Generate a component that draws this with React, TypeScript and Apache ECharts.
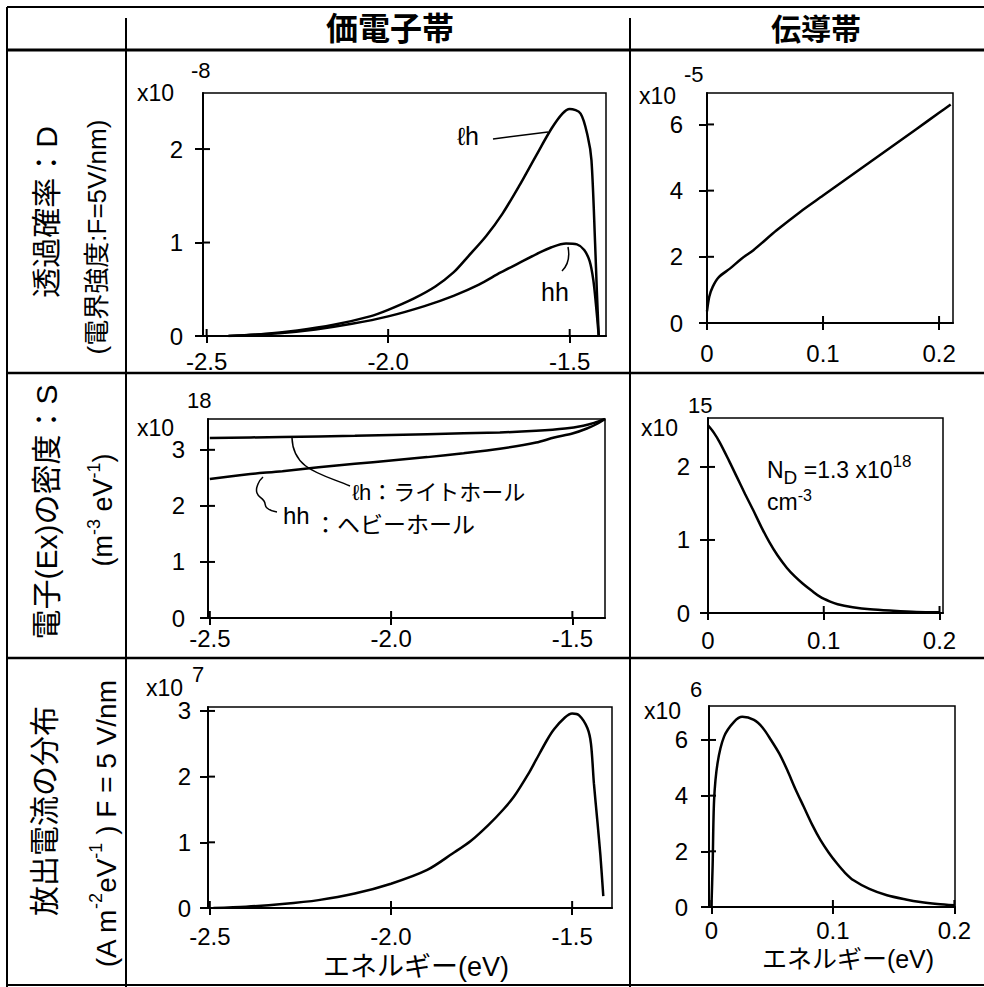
import React, { useEffect, useRef } from "react";
import * as echarts from "echarts";

// ---------- data ----------
const VB_E_TICKS = [-2.5, -2.0, -1.5];
const CB_E_TICKS = [0, 0.1, 0.2];
const D_VB_Y_TICKS = [0, 1, 2];
const D_CB_Y_TICKS = [0, 2, 4, 6];
const S_VB_Y_TICKS = [0, 1, 2, 3];
const S_CB_Y_TICKS = [0, 1, 2];
const J_VB_Y_TICKS = [0, 1, 2, 3];
const J_CB_Y_TICKS = [0, 2, 4, 6];

// transmission probability D (x1e-8), valence band
const D_VB_LH = [
  [-2.44, 0.0], [-2.35, 0.02], [-2.25, 0.06], [-2.15, 0.12], [-2.05, 0.21], [-2.0, 0.28],
  [-1.93, 0.4], [-1.87, 0.53], [-1.82, 0.68], [-1.78, 0.85], [-1.73, 1.07], [-1.685, 1.31],
  [-1.64, 1.6], [-1.594, 1.92], [-1.55, 2.22], [-1.52, 2.38], [-1.5, 2.43], [-1.47, 2.38],
  [-1.45, 2.13], [-1.44, 1.88], [-1.43, 0.99], [-1.425, 0.46], [-1.42, 0.0],
];
const D_VB_HH = [
  [-2.44, 0.0], [-2.3, 0.03], [-2.2, 0.07], [-2.1, 0.13], [-2.0, 0.21], [-1.9, 0.32],
  [-1.82, 0.43], [-1.75, 0.55], [-1.69, 0.68], [-1.64, 0.78], [-1.59, 0.88], [-1.55, 0.95],
  [-1.51, 0.99], [-1.48, 0.98], [-1.46, 0.92], [-1.445, 0.8], [-1.435, 0.6], [-1.428, 0.35],
  [-1.42, 0.0],
];
// transmission probability D (x1e-5), conduction band
const D_CB = [
  [0, 0.35], [0.002, 0.8], [0.005, 1.1], [0.01, 1.38], [0.02, 1.65], [0.03, 1.95], [0.04, 2.2],
  [0.06, 2.8], [0.08, 3.35], [0.1, 3.85], [0.12, 4.35], [0.14, 4.85], [0.16, 5.35],
  [0.18, 5.85], [0.2, 6.35], [0.21, 6.6],
];
// electron density S (x1e18), valence band
const S_VB_LH = [
  [-2.5, 3.21], [-2.3, 3.23], [-2.1, 3.25], [-1.9, 3.28], [-1.7, 3.31], [-1.6, 3.34],
  [-1.52, 3.38], [-1.47, 3.43], [-1.44, 3.48], [-1.41, 3.55],
];
const S_VB_HH = [
  [-2.5, 2.48], [-2.4, 2.56], [-2.3, 2.62], [-2.2, 2.69], [-2.1, 2.75], [-2.0, 2.81],
  [-1.9, 2.87], [-1.8, 2.94], [-1.7, 3.02], [-1.6, 3.13], [-1.55, 3.22], [-1.5, 3.29],
  [-1.46, 3.38], [-1.43, 3.47], [-1.41, 3.55],
];
// electron density S (x1e15), conduction band
const S_CB = [
  [0, 2.57], [0.005, 2.47], [0.01, 2.34], [0.018, 2.09], [0.025, 1.86], [0.032, 1.63],
  [0.039, 1.41], [0.046, 1.18], [0.053, 0.97], [0.06, 0.79], [0.068, 0.62], [0.075, 0.5],
  [0.082, 0.4], [0.09, 0.3], [0.097, 0.22], [0.105, 0.16], [0.112, 0.12], [0.125, 0.08],
  [0.14, 0.05], [0.16, 0.03], [0.18, 0.015], [0.2, 0.01],
];
// emission current distribution J (x1e7), valence band
const J_VB = [
  [-2.49, 0.0], [-2.4, 0.02], [-2.3, 0.06], [-2.2, 0.12], [-2.1, 0.22], [-2.0, 0.37],
  [-1.9, 0.58], [-1.83, 0.83], [-1.78, 1.02], [-1.73, 1.27], [-1.69, 1.5], [-1.66, 1.7],
  [-1.62, 2.05], [-1.6, 2.25], [-1.57, 2.55], [-1.55, 2.72], [-1.52, 2.9], [-1.5, 2.96],
  [-1.48, 2.93], [-1.458, 2.74], [-1.448, 2.5], [-1.44, 1.9], [-1.43, 1.3], [-1.422, 0.8],
  [-1.414, 0.18],
];
// emission current distribution J (x1e6), conduction band
const J_CB = [
  [0, 0], [0.001, 1.5], [0.0022, 3.84], [0.005, 5.16], [0.0104, 6.12], [0.0186, 6.65],
  [0.0254, 6.83], [0.035, 6.72], [0.042, 6.45], [0.049, 6.0], [0.056, 5.5], [0.0624, 4.92],
  [0.069, 4.25], [0.076, 3.6], [0.083, 2.95], [0.0898, 2.4], [0.0966, 1.95], [0.1034, 1.56],
  [0.11, 1.23], [0.117, 0.96], [0.13, 0.65], [0.1445, 0.42], [0.16, 0.27], [0.172, 0.18],
  [0.186, 0.11], [0.2, 0.06],
];

// ---------- layout ----------
const FONT = "'Liberation Sans', 'Noto Sans CJK JP', sans-serif";

const PANELS = [
  { grid: { left: 203, top: 93, width: 403, height: 243 }, x: [-2.51, -1.4], xt: VB_E_TICKS, y: [0, 2.6], yt: D_VB_Y_TICKS, xm: 13, ym: 20, series: [D_VB_LH, D_VB_HH] },
  { grid: { left: 707, top: 93, width: 246, height: 230 }, x: [0, 0.212], xt: CB_E_TICKS, y: [0, 6.95], yt: D_CB_Y_TICKS, xm: 18, ym: 24, series: [D_CB] },
  { grid: { left: 208, top: 419, width: 397, height: 199 }, x: [-2.505, -1.41], xt: VB_E_TICKS, y: [0, 3.55], yt: S_VB_Y_TICKS, xm: 8, ym: 23, series: [S_VB_LH, S_VB_HH] },
  { grid: { left: 708, top: 418, width: 235, height: 195 }, x: [0, 0.203], xt: CB_E_TICKS, y: [0, 2.67], yt: S_CB_Y_TICKS, xm: 15, ym: 18, series: [S_CB] },
  { grid: { left: 208, top: 707, width: 404, height: 201 }, x: [-2.505, -1.39], xt: VB_E_TICKS, y: [0, 3.06], yt: J_VB_Y_TICKS, xm: 16, ym: 17, series: [J_VB] },
  { grid: { left: 709, top: 706, width: 246, height: 201 }, x: [-0.002, 0.2005], xt: CB_E_TICKS, y: [0, 7.22], yt: J_CB_Y_TICKS, xm: 11, ym: 21, series: [J_CB] },
];

const fmtE = (v: number) => (v === 0 ? "0" : v < 0 ? v.toFixed(1) : String(v));

function txt(text: string, x: number, y: number, size: number, o: any = {}) {
  return {
    type: "text",
    x,
    y,
    rotation: o.rot || 0,
    z: 100,
    style: {
      text,
      fontSize: size,
      fontFamily: FONT,
      fontWeight: o.fw || "normal",
      fill: "#000",
      align: o.align || "left",
      verticalAlign: o.va || "middle",
      lineHeight: o.lh || size,
      rich: o.rich,
    },
  };
}
function ln(x1: number, y1: number, x2: number, y2: number, w = 2) {
  return { type: "line", z: 100, shape: { x1, y1, x2, y2 }, style: { stroke: "#000", lineWidth: w } };
}

function baseGraphic(): any[] {
  const supRich = {
    sup: { fontSize: 18, fontFamily: FONT, verticalAlign: "top", lineHeight: 18 },
    sub: { fontSize: 18, fontFamily: FONT, verticalAlign: "bottom", lineHeight: 18 },
  };
  return [
    // table frame
    ln(7, 7, 984, 7, 2),
    ln(7, 50, 984, 50, 3),
    ln(7, 373, 984, 373, 2.5),
    ln(7, 658, 984, 658, 2.5),
    ln(7, 985, 984, 985, 2),
    ln(7, 7, 7, 987, 2),
    ln(126, 18, 126, 987, 2),
    ln(630, 18, 630, 987, 2),
    // headers
    txt("価電子帯", 390, 29, 32, { align: "center", fw: "bold" }),
    txt("伝導帯", 816, 29, 30, { align: "center", fw: "bold" }),
    // row labels
    txt("透過確率：D", 46, 212, 30, { rot: Math.PI / 2, align: "center" }),
    txt("(電界強度:F=5V/nm)", 97, 237, 26, { rot: Math.PI / 2, align: "center" }),
    txt("電子(Ex)の密度：S", 46, 512, 30, { rot: Math.PI / 2, align: "center" }),
    txt("(m{sup|-3} eV{sup|-1})", 103, 510, 27, { rot: Math.PI / 2, align: "center", lh: 36, rich: supRich }),
    txt("放出電流の分布", 44, 811, 30, { rot: Math.PI / 2, align: "center" }),
    txt("(A m{sup|-2}eV{sup|-1} ) F = 5 V/nm", 106, 824, 28, { rot: Math.PI / 2, align: "center", lh: 38, rich: supRich }),
    // axis exponents
    txt("x10", 137, 93, 23, { lh: 20 }), txt("-8", 191, 70, 22, { lh: 18 }),
    txt("x10", 639, 96, 23, { lh: 20 }), txt("-5", 684, 74, 22, { lh: 18 }),
    txt("x10", 137, 428, 23, { lh: 20 }), txt("18", 187, 400, 22, { lh: 18 }),
    txt("x10", 641, 428, 23, { lh: 20 }), txt("15", 688, 405, 22, { lh: 18 }),
    txt("x10", 146, 688, 23, { lh: 20 }), txt("7", 192, 674, 22, { lh: 18 }),
    txt("x10", 644, 711, 23, { lh: 20 }), txt("6", 690, 689, 22, { lh: 18 }),
    // x axis titles
    txt("エネルギー(eV)", 416, 967, 27, { align: "center", lh: 24 }),
    txt("エネルギー(eV)", 848, 959, 25, { align: "center", lh: 24 }),
    // panel 1 annotations
    txt("ℓh", 457, 136, 25),
    ln(493, 139, 548, 132, 1.5),
    txt("hh", 541, 292, 25),
    { type: "bezierCurve", z: 100, shape: { x1: 562, y1: 271, cpx1: 571, cpy1: 262, x2: 568, y2: 247 }, style: { stroke: "#000", lineWidth: 1.5, fill: null } },
    // panel 3 annotations
    txt("ℓh：ライトホール", 352, 492, 22),
    txt("hh", 283, 515, 24),
    txt("：ヘビーホール", 314, 525, 23),
    { type: "bezierCurve", z: 100, shape: { x1: 292, y1: 438, cpx1: 293, cpy1: 470, cpx2: 322, cpy2: 474, x2: 350, y2: 486 }, style: { stroke: "#000", lineWidth: 1.5, fill: null } },
    { type: "polyline", z: 100, shape: { points: [[263, 477], [258, 484], [257, 493], [264, 501], [267, 508], [277, 512]], smooth: 0.5 }, style: { stroke: "#000", lineWidth: 1.5, fill: null } },
    // panel 4 annotation
    txt("N{sub|D} =1.3 x10{sup|18}", 767, 470, 23, { lh: 34, rich: { sup: { fontSize: 17, fontFamily: FONT, verticalAlign: "top", lineHeight: 17 }, sub: { fontSize: 19, fontFamily: FONT, verticalAlign: "bottom", lineHeight: 19 } } }),
    txt("cm{sup|-3}", 767, 502, 23, { lh: 30, rich: { sup: { fontSize: 16, fontFamily: FONT, verticalAlign: "top", lineHeight: 16 } } }),
  ];
}

function buildOption() {
  const grid: any[] = [];
  const xAxis: any[] = [];
  const yAxis: any[] = [];
  const series: any[] = [];
  PANELS.forEach((p, i) => {
    grid.push({ ...p.grid, show: true, borderColor: "#000", borderWidth: 1.5, backgroundColor: "transparent" });
    const tickStyle = { color: "#000", width: 2 };
    const lineStyle = { color: "#000", width: 2 };
    xAxis.push({
      gridIndex: i, type: "value", min: p.x[0], max: p.x[1], position: "bottom",
      axisLine: { show: true, onZero: false, lineStyle },
      axisTick: { show: true, customValues: p.xt, length: 7, lineStyle: tickStyle },
      axisLabel: { show: true, customValues: p.xt, formatter: fmtE, margin: p.xm, fontSize: 24, lineHeight: 24, fontFamily: FONT, color: "#000" },
      splitLine: { show: false },
    });
    yAxis.push({
      gridIndex: i, type: "value", min: p.y[0], max: p.y[1], position: "left",
      axisLine: { show: true, onZero: false, lineStyle },
      axisTick: { show: true, customValues: p.yt, length: 8, lineStyle: tickStyle },
      axisLabel: { show: true, customValues: p.yt, margin: p.ym, fontSize: 24, lineHeight: 22, fontFamily: FONT, color: "#000" },
      splitLine: { show: false },
    });
    p.series.forEach((d) => {
      series.push({
        type: "line", xAxisIndex: i, yAxisIndex: i, data: d,
        showSymbol: false, symbol: "none", smooth: 0.3,
        lineStyle: { color: "#000", width: 2.5 },
      });
    });
  });

  return {
    animation: false,
    backgroundColor: "#fff",
    grid,
    xAxis,
    yAxis,
    series,
    graphic: baseGraphic(),
  };
}

export default function App() {
  const ref = useRef<HTMLDivElement>(null);
  useEffect(() => {
    if (!ref.current) return;
    const chart = echarts.init(ref.current, undefined, { renderer: "svg" });
    chart.setOption(buildOption() as any);
    // inward halves of the crossing tick marks, placed through the axes' own scales
    const inner: any[] = [];
    PANELS.forEach((p, i) => {
      p.xt.forEach((v) => {
        const pt = chart.convertToPixel({ gridIndex: i } as any, [v, p.y[0]]) as number[];
        if (pt) inner.push(ln(pt[0], pt[1], pt[0], pt[1] - 7, 2));
      });
      p.yt.forEach((v) => {
        const pt = chart.convertToPixel({ gridIndex: i } as any, [p.x[0], v]) as number[];
        if (pt) inner.push(ln(pt[0], pt[1], pt[0] + 7, pt[1], 2));
      });
    });
    chart.setOption({ graphic: [...baseGraphic(), ...inner] } as any);
    return () => chart.dispose();
  }, []);
  return (
    <div
      ref={ref}
      style={{ position: "absolute", left: 0, top: 0, width: 984, height: 987, background: "#fff" }}
    />
  );
}
